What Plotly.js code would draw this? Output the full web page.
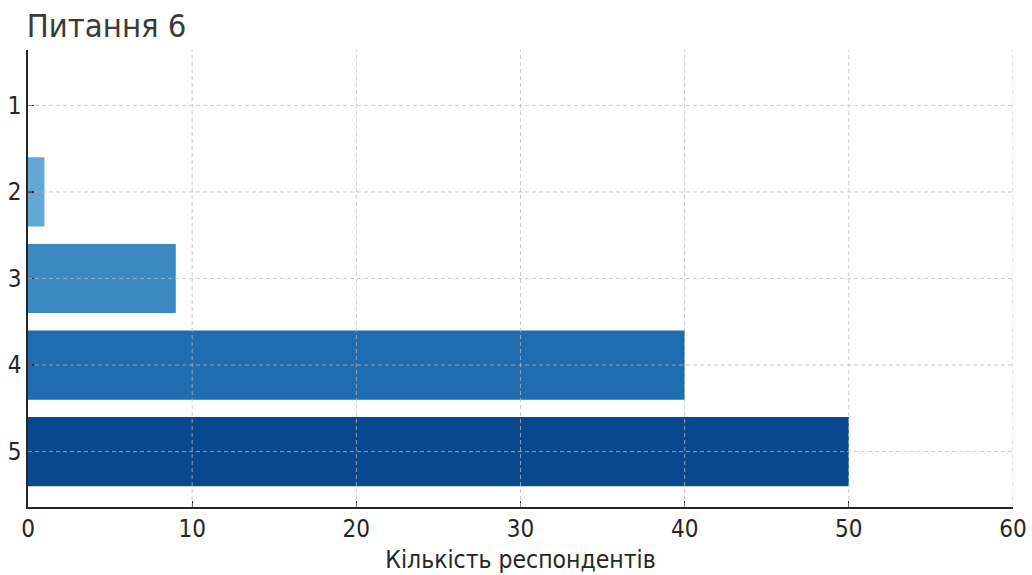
<!DOCTYPE html>
<html>
<head>
<meta charset="utf-8">
<script src="https://cdn.plot.ly/plotly-3.0.1.min.js"></script>
<style>html,body{margin:0;padding:0;background:#fff}#chart{width:1032px;height:575px}</style>
</head>
<body>
<div id="chart"></div>
<script>
// Data
const categories = [1, 2, 3, 4, 5];
const categoryLabels = ["1", "2", "3", "4", "5"];
const respondents = [0, 1, 9, 40, 50];
const barColors = ["#9ecae1", "#63a8d3", "#3a89c1", "#1f6cb0", "#08488e"];
const xTickVals = [0, 10, 20, 30, 40, 50, 60];

const FONT = "DejaVu Sans Condensed, DejaVu Sans, sans-serif";
const gridStyle = {color: "rgba(185,185,185,0.75)", width: 1, dash: "4px,3px"};

const shapes = [];
xTickVals.filter(v => v > 0).forEach(v => shapes.push({
  type: "line", layer: "above", xref: "x", yref: "paper", x0: v, x1: v, y0: 0, y1: 1, line: gridStyle
}));
categories.forEach(c => shapes.push({
  type: "line", layer: "above", xref: "paper", yref: "y", x0: 0, x1: 1, y0: c, y1: c, line: gridStyle
}));

const trace = {
  type: "bar",
  orientation: "h",
  y: categories,
  x: respondents,
  width: 0.8,
  marker: {color: barColors, line: {width: 0}},
  hoverinfo: "x+y"
};

const layout = {
  width: 1032, height: 575,
  margin: {l: 28, r: 19, t: 50, b: 68},
  paper_bgcolor: "#fff", plot_bgcolor: "#fff",
  showlegend: false,
  font: {family: FONT, color: "#262626"},
  title: {text: "Питання 6", x: 0.026, xanchor: "left", y: 0.955, yanchor: "middle",
          font: {family: FONT, size: 32.5, color: "#3a3a3a"}},
  xaxis: {
    range: [0, 60], tickvals: xTickVals, ticktext: xTickVals.map(String),
    showgrid: false, zeroline: false,
    showline: true, linecolor: "#262626", linewidth: 1.6,
    ticks: "inside", ticklen: 6, tickwidth: 1.3, tickcolor: "#262626",
    tickfont: {family: FONT, size: 24, color: "#262626"},
    title: {text: "Кількість респондентів", font: {family: FONT, size: 24.5, color: "#262626"}, standoff: 8},
    layer: "above traces"
  },
  yaxis: {
    range: [5.64, 0.36], tickvals: categories, ticktext: categoryLabels,
    showgrid: false, zeroline: false,
    showline: true, linecolor: "#262626", linewidth: 1.6,
    ticks: "inside", ticklen: 6, tickwidth: 1.3, tickcolor: "#262626",
    tickfont: {family: FONT, size: 24, color: "#262626"},
    layer: "above traces"
  },
  shapes: shapes
};

Plotly.newPlot("chart", [trace], layout, {displayModeBar: false, staticPlot: true});
</script>
</body>
</html>
